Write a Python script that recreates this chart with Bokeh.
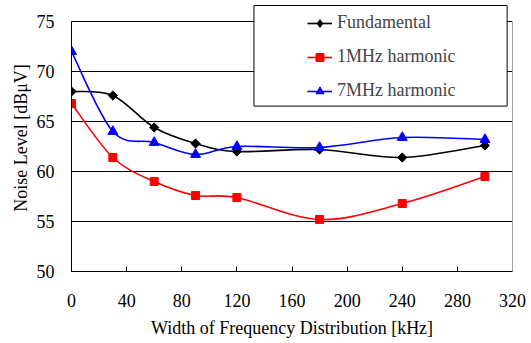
import numpy as np
from bokeh.plotting import figure
from bokeh.models import Legend, LegendItem, BoxAnnotation, FixedTicker, LinearAxis
from bokeh.embed import file_html
from bokeh.resources import INLINE

# ---- data ----
width_khz = [0, 30, 60, 90, 120, 180, 240, 300]
fundamental = [68.0, 67.6, 64.4, 62.8, 62.0, 62.2, 61.4, 62.6]
harm_1mhz = [66.8, 61.4, 59.0, 57.6, 57.4, 55.2, 56.8, 59.5]
harm_7mhz = [72.0, 64.0, 62.9, 61.7, 62.5, 62.4, 63.4, 63.2]
series_names = ["Fundamental", "1MHz harmonic", "7MHz harmonic"]
x_ticks = [0, 40, 80, 120, 160, 200, 240, 280, 320]
y_ticks = [50, 55, 60, 65, 70, 75]

FONT = "Liberation Serif"
FS = "18px"

# frame extends a little above 75 so the legend box (which overhangs the plot) is not clipped
p = figure(width=531, height=343, x_range=(0, 320), y_range=(50, 76.7),
           output_backend="svg", toolbar_location=None,
           min_border_left=71, min_border_right=19, min_border_top=4, min_border_bottom=72)
p.background_fill_color = "white"
p.border_fill_color = "white"
p.outline_line_color = None

p.xaxis.ticker = FixedTicker(ticks=x_ticks)
p.yaxis.ticker = FixedTicker(ticks=y_ticks)
p.xgrid.visible = False
p.ygrid.grid_line_color = "black"
p.ygrid.grid_line_width = 1
p.yaxis.bounds = (50, 75)

for ax in (p.xaxis[0], p.yaxis[0]):
    ax.axis_line_color = "black"
    ax.axis_line_width = 1
    ax.major_tick_line_color = "black"
    ax.major_tick_in = 5
    ax.major_tick_out = 0
    ax.minor_tick_line_color = None
    ax.major_label_text_font = FONT
    ax.major_label_text_font_size = FS
    ax.major_label_text_color = "black"
    ax.axis_label_text_font = FONT
    ax.axis_label_text_font_size = FS
    ax.axis_label_text_font_style = "normal"
    ax.axis_label_text_color = "black"

p.xaxis.axis_label = "Width of Frequency Distribution [kHz]"
p.yaxis.axis_label = "Noise Level [dBμV]"
p.xaxis.major_label_standoff = 22
p.xaxis.axis_label_standoff = 8
p.yaxis.major_label_standoff = 17
p.yaxis.axis_label_standoff = 3

# gray right border of the plot area
right_axis = LinearAxis(ticker=FixedTicker(ticks=[]), bounds=(50, 75),
                        axis_line_color="#a0a0a0", axis_line_width=1,
                        major_tick_line_color=None, minor_tick_line_color=None,
                        major_label_text_color=None)
p.add_layout(right_axis, "right")


def smooth_segments(xs, ys):
    """Catmull-Rom style Bezier control points (like a spreadsheet smoothed line)."""
    xs = np.asarray(xs, float)
    ys = np.asarray(ys, float)
    n = len(xs)
    px = np.concatenate([[xs[0]], xs, [xs[-1]]])
    py = np.concatenate([[ys[0]], ys, [ys[-1]]])
    x0, y0, x1, y1, cx0, cy0, cx1, cy1 = [], [], [], [], [], [], [], []
    for i in range(n - 1):
        a, b, c, d = i, i + 1, i + 2, i + 3
        x0.append(px[b]); y0.append(py[b])
        x1.append(px[c]); y1.append(py[c])
        cx0.append(px[b] + (px[c] - px[a]) / 6.0)
        cy0.append(py[b] + (py[c] - py[a]) / 6.0)
        cx1.append(px[c] - (px[d] - px[b]) / 6.0)
        cy1.append(py[c] - (py[d] - py[b]) / 6.0)
    return dict(x0=x0, y0=y0, x1=x1, y1=y1, cx0=cx0, cy0=cy0, cx1=cx1, cy1=cy1)


styles = [
    dict(color="black", marker="square", size=6.5, angle=np.pi / 4, legend_marker="diamond"),
    dict(color="#ff0000", marker="square", size=8, angle=0, legend_marker="square"),
    dict(color="#0000ff", marker="triangle", size=10, angle=0, legend_marker="triangle"),
]
all_series = [fundamental, harm_1mhz, harm_7mhz]

items = []
for name, ys, st in zip(series_names, all_series, styles):
    seg = smooth_segments(width_khz, ys)
    br = p.bezier(line_color=st["color"], line_width=1.6, **seg)
    lr = None
    if st["legend_marker"] != st["marker"]:
        # diamond marks (legend swatch; legend markers are never rotated), hidden under the rotated squares
        lr = p.scatter(width_khz, ys, marker=st["legend_marker"], size=8,
                       fill_color=st["color"], line_color=st["color"])
    sr = p.scatter(width_khz, ys, marker=st["marker"], size=st["size"], angle=st["angle"],
                   fill_color=st["color"], line_color=st["color"])
    items.append(LegendItem(label=name, renderers=[br, lr if lr is not None else sr]))

# legend frame
box = BoxAnnotation(left=132.4, right=316.1, bottom=66.54, top=76.6,
                    fill_color="white", fill_alpha=1.0,
                    line_color="black", line_width=1, line_alpha=1.0)
p.add_layout(box)

legend = Legend(items=items, location=(236, 170), padding=0, spacing=13,
                glyph_width=25, glyph_height=20, label_height=20, label_standoff=5,
                label_text_font=FONT, label_text_font_size=FS,
                border_line_alpha=0, background_fill_alpha=0)
p.add_layout(legend)

open("out.html", "w").write(file_html(p, INLINE))
